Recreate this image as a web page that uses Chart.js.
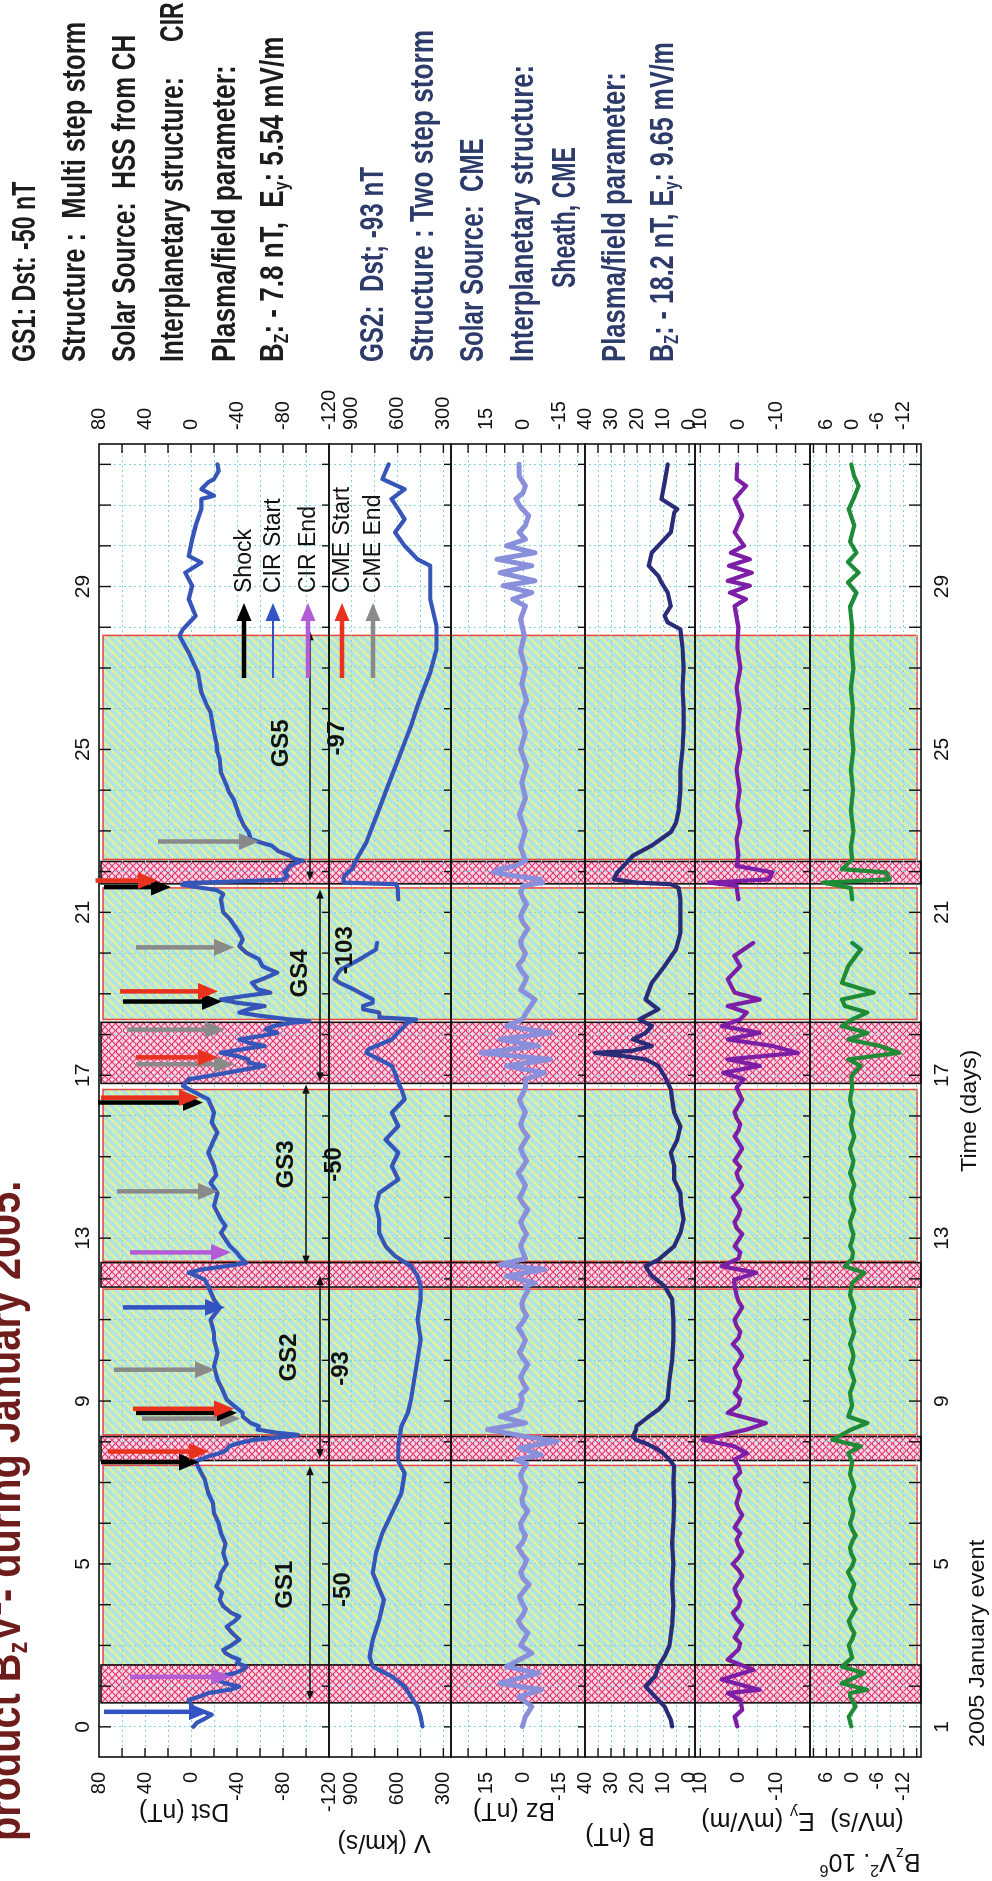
<!DOCTYPE html>
<html>
<head>
<meta charset="utf-8">
<script src="https://cdn.jsdelivr.net/npm/chart.js@4.4.1/dist/chart.umd.min.js"></script>
<style>
html, body { margin: 0; padding: 0; width: 992px; height: 1881px; overflow: hidden; background: #fff; }
#page { position: absolute; left: 0; top: 0; width: 1881px; height: 992px; transform-origin: 0 0; transform: translateY(1881px) rotate(-90deg); }
#c { position: absolute; left: 0; top: 0; }
.txt { position: absolute; white-space: nowrap; transform-origin: 0 0; }
.note { font-family: 'Liberation Sans Narrow', 'Liberation Sans', sans-serif; font-weight: bold; font-size: 34px; line-height: 34px; color: #1c1c1c; }
.gs2 { color: #2c3b69; }
.foot { font-family: 'Liberation Sans', Arial, sans-serif; font-size: 22px; line-height: 22px; color: #111; }
#title { font-family: 'Liberation Sans', Arial, sans-serif; font-weight: bold; font-size: 46px; line-height: 46px; color: #6e1c1c; }
sub, sup { font-size: 60%; line-height: 0; }
sub { vertical-align: -0.25em; }
sup { vertical-align: 0.7em; }
</style>
</head>
<body>
<div id="page">
  <canvas id="c" width="1881" height="992"></canvas>
  <div id="title" class="txt" data-w="660" style="left:40px;top:-19px">product B<sub>z</sub>V<sup>2</sup>- during January 2005.</div>

  <div class="txt note" style="left:1519px;top:6px" data-w="180">GS1: Dst: -50 nT</div>
  <div class="txt note" style="left:1519px;top:56px" data-w="340">Structure :&nbsp; Multi step storm</div>
  <div class="txt note" style="left:1519px;top:106px" data-w="327">Solar Source:&nbsp; HSS from CH</div>
  <div class="txt note" style="left:1519px;top:154px" data-w="285">Interplanetary structure:</div>
  <div class="txt note" style="left:1839px;top:154px" data-w="40">CIR</div>
  <div class="txt note" style="left:1519px;top:206px" data-w="297">Plasma/field parameter:</div>
  <div class="txt note" style="left:1519px;top:254px" data-w="325">B<sub>Z</sub>: - 7.8 nT,&nbsp; E<sub>y</sub>: 5.54 mV/m</div>

  <div class="txt note gs2" style="left:1519px;top:354px" data-w="195">GS2:&nbsp; Dst; -93 nT</div>
  <div class="txt note gs2" style="left:1519px;top:404px" data-w="332">Structure : Two step storm</div>
  <div class="txt note gs2" style="left:1519px;top:454px" data-w="224">Solar Source:&nbsp; CME</div>
  <div class="txt note gs2" style="left:1519px;top:504px" data-w="297">Interplanetary structure:</div>
  <div class="txt note gs2" style="left:1593px;top:546px" data-w="141">Sheath, CME</div>
  <div class="txt note gs2" style="left:1519px;top:596px" data-w="290">Plasma/field parameter:</div>
  <div class="txt note gs2" style="left:1519px;top:644px" data-w="320">B<sub>Z</sub>: - 18.2 nT, E<sub>y</sub>: 9.65 mV/m</div>

  <div class="txt foot" style="left:134px;top:966px" data-w="207">2005 January event</div>
  <div class="txt foot" style="left:709px;top:958px" data-w="122">Time (days)</div>
</div>

<script>
// ---- data: [day of January, value] ----
var dst = [[1.00,-2],[1.10,-5],[1.20,-12],[1.30,-18],[1.38,-10],[1.45,-2],[1.55,0],[1.66,2],[1.75,-8],[1.83,-15],
  [1.92,-35],[1.99,-42],[2.07,-30],[2.16,-22],[2.24,-26],[2.32,-38],[2.40,-45],[2.48,-48],[2.57,-40],[2.65,-42],
  [2.73,-35],[2.81,-30],[2.89,-28],[3.00,-35],[3.14,-42],[3.30,-36],[3.46,-31],[3.60,-38],[3.71,-42],[3.80,-35],
  [3.96,-28],[4.12,-25],[4.30,-27],[4.45,-22],[4.62,-25],[4.78,-26],[5.00,-31],[5.27,-28],[5.50,-30],[5.76,-26],
  [6.00,-24],[6.25,-20],[6.50,-19],[6.74,-15],[7.07,-12],[7.23,-9],
  [7.40,-6],[7.52,-4],[7.56,-8],[7.64,-15],[7.72,-25],[7.80,-31],[7.89,-33],[7.97,-42],[8.05,-55],[8.13,-85],
  [8.17,-93],[8.22,-75],[8.30,-58],[8.38,-59],[8.46,-52],[8.62,-45],[8.71,-45],[8.87,-38],[9.04,-31],[9.30,-27],[9.53,-23],
  [9.85,-20],[10.18,-23],[10.51,-20],[10.67,-20],[11.00,-17],[11.29,-25],[11.49,-20],[11.82,-15],[11.98,-12],[12.07,-5],
  [12.15,2],[12.23,-9],[12.31,-30],[12.39,-48],[12.47,-45],[12.56,-42],[12.64,-40],[12.80,-34],[13.13,-26],[13.30,-30],[13.46,-26],
  [13.79,-20],[14.11,-23],[14.36,-17],[14.55,-22],[14.77,-20],[15.10,-15],[15.42,-20],[15.59,-23],[15.85,-18],[16.08,-20],[16.41,-15],[16.57,-4],
  [16.74,7],[16.90,2],[16.98,-15],[17.06,-31],[17.23,-64],[17.31,-50],[17.39,-50],[17.47,-40],[17.55,-26],[17.64,-45],
  [17.72,-64],[17.80,-50],[17.88,-42],[17.96,-60],[18.04,-75],[18.13,-65],[18.21,-72],[18.29,-88],[18.33,-103],[18.37,-86],
  [18.46,-60],[18.54,-42],[18.62,-50],[18.70,-64],[18.78,-40],[18.86,-26],[18.94,-45],[19.03,-69],[19.11,-58],[19.27,-53],
  [19.36,-62],[19.52,-75],[19.60,-68],[19.68,-62],[19.85,-59],[20.01,-48],[20.17,-42],[20.34,-45],[20.50,-42],[20.66,-38],
  [20.83,-34],[21.00,-28],[21.32,-26],[21.45,-28],[21.55,-22],[21.62,-5],[21.68,8],[21.72,5],[21.76,-40],[21.80,-80],
  [21.90,-84],[21.98,-81],[22.06,-84],[22.14,-86],[22.22,-92],[22.27,-97],[22.31,-90],[22.39,-86],[22.50,-76],[22.64,-70],
  [22.72,-60],[22.80,-52],[22.97,-50],[23.13,-46],[23.37,-42],[23.54,-40],[23.78,-37],[23.95,-33],[24.11,-31],[24.44,-26],
  [24.76,-25],[24.93,-23],[25.17,-22],[25.42,-20],[25.58,-19],[25.91,-17],[26.07,-14],[26.40,-9],[26.89,-6],[27.38,2],
  [27.79,10],[27.95,7],[28.28,-4],[28.69,2],[29.02,-1],[29.34,5],[29.59,-9],[29.75,2],[30.16,-1],[30.49,-4],
  [30.90,-9],[31.15,-9],[31.23,-20],[31.39,-9],[31.56,-15],[31.64,-20],[31.84,-24],[32.00,-23]];

var vel = [[1.01,437],[1.25,449],[1.50,470],[1.74,512],[1.99,554],[2.24,638],[2.48,763],[2.73,784],[3.14,763],[3.63,721],
  [4.12,690],[4.29,710],[4.78,763],[5.27,742],[5.76,700],[6.25,638],[6.74,575],[7.23,554],[7.52,596],[7.89,596],
  [8.38,575],[8.71,533],[9.04,512],[9.53,491],[10.02,470],[10.51,449],[11.00,470],[11.49,449],[11.82,449],[12.07,470],
  [12.31,512],[12.56,617],[12.80,679],[13.13,721],[13.46,721],[13.79,742],[14.11,721],[14.44,596],[14.77,638],[15.10,596],
  [15.42,679],[15.75,596],[16.08,638],[16.41,554],[16.65,575],[16.82,596],[16.98,610],[17.23,638],[17.39,720],[17.55,805],
  [17.64,790],[17.88,638],[18.04,600],[18.21,554],[18.29,540],[18.37,480],[18.42,720],[18.54,721],[18.62,826],[18.70,826],
  [18.78,763],[18.86,763],[19.03,850],[19.11,889],[19.27,980],[19.36,1014],[19.52,990],[19.60,972],[19.85,847],[20.09,742],
  [20.25,735],[20.30,null],[21.32,596],[21.60,600],[21.69,610],[21.73,951],[21.81,955],[21.90,950],[22.06,900],[22.31,868],
  [22.72,805],[23.13,763],[23.54,721],[23.95,679],[24.35,638],[24.76,596],[25.17,554],[25.58,512],[26.07,470],[26.48,429],
  [26.89,386],[27.46,345],[28.03,345],[28.69,386],[29.10,386],[29.51,386],[29.67,470],[30.00,554],[30.33,617],[30.65,554],
  [30.90,596],[31.15,640],[31.39,554],[31.64,700],[32.00,659]];

var bz = [[1.01,0.3],[1.25,-1],[1.50,-3.6],[1.74,1.6],[1.91,-7.4],[2.07,9.4],[2.32,-6.2],[2.48,6.8],[2.81,-3.6],[3.0,1],
  [3.15,-0.5],[3.3,-2],[3.45,0.5],[3.6,2],[3.75,0],[3.9,-1],[4.05,0.5],[4.2,1.5],[4.35,-0.5],[4.5,-2.5],[4.65,0],[4.8,1],
  [4.95,-0.5],[5.1,-1.5],[5.25,0.5],[5.4,2],[5.55,0],[5.7,-1],[5.85,0.5],[6.0,1],[6.15,-0.5],
  [6.3,-2],[6.45,0],[6.6,0.5],[6.75,-0.5],[6.9,-1],[7.05,0.5],[7.2,1],[7.45,-1.5],[7.56,2.9],[7.68,-7.4],[7.85,1.6],[8.01,-13.9],[8.13,-1],
  [8.30,14.6],[8.46,-1],[8.62,9.4],[8.79,1.6],[9.04,0.3],[9.15,1],[9.3,-1.5],[9.45,0],[9.6,1],[9.75,-0.5],[9.9,-2],[10.05,0],[10.2,1.5],[10.35,0],[10.5,-1],
  [10.65,0.5],[10.8,2],[10.95,0],[11.1,-1.5],[11.25,0],[11.4,0.5],[11.55,-0.5],[11.7,-2],[11.82,-1],[11.90,-4.9],[12.07,6.8],[12.23,-8.8],[12.35,9.4],[12.5,-1],
  [12.65,0],[12.8,1],[12.95,0],[13.1,-1.5],[13.25,0],[13.4,1],[13.55,-0.5],[13.7,-2],[13.85,0],[14.0,1.5],[14.15,0],[14.3,-1],[14.45,0.5],[14.6,2],[14.75,0],[14.9,-1.5],[15.05,0],[15.2,1],[15.35,-0.5],[15.5,-2],
  [15.65,0],[15.8,1],[15.95,0],[16.1,-1],[16.25,0.5],[16.4,1.5],[16.55,0],[16.7,-1],[16.90,-1],[17.06,-8.8],[17.23,6.8],[17.39,-11.3],[17.55,17.2],[17.72,-6.2],
  [17.88,9.4],[18.04,-11.3],[18.21,6.8],[18.37,0.3],[18.6,-2],[18.86,-4.9],[19.1,1],[19.25,-0.5],[19.4,-1.5],[19.55,0.5],[19.7,2],[19.85,0],[20.0,-1],
  [20.15,0.5],[20.3,1],[20.45,-0.5],[20.6,-2],[20.75,0],[20.9,1],[21.05,0],[21.2,-1.5],[21.35,0],[21.5,1],[21.65,0],[21.73,-8],[21.81,-7],[21.90,4],[21.98,12],
  [22.06,10],[22.14,3],[22.27,-1],[22.6,1],[23.0,-1],[23.4,1.5],[23.8,-1],[24.2,0.5],[24.6,-1.5],[25.0,1],
  [25.4,-1],[25.8,1],[26.2,-1.5],[26.6,0.5],[27.0,-1],[27.4,1],[27.8,-0.5],[28.2,1],[28.52,-1],[28.69,4.2],
  [28.85,-3.6],[29.02,8.1],[29.14,-4.9],[29.34,9.4],[29.51,-3.6],[29.67,10.7],[29.83,-4.9],[30.0,6.8],[30.16,-1],[30.33,1.6],
  [30.5,-1],[30.74,-2.3],[30.95,1],[31.15,2.9],[31.3,0],[31.47,-1],[31.7,1.5],[32.0,1.6]];

var bt = [[1.01,6.5],[1.17,7],[1.34,8.2],[1.50,9.4],[1.66,11.8],[1.83,14.3],[1.99,16.7],[2.16,14.3],[2.24,13],[2.48,11.8],
  [2.73,9.4],[3.0,7.5],[3.5,6.5],[4.0,6],[4.5,6.5],[5.0,6],[5.5,6.5],[6.0,6],[6.5,5.7],[7.0,6],
  [7.4,5.7],[7.56,7.5],[7.72,10],[7.85,13],[7.97,17],[8.05,20.5],[8.13,21.6],[8.30,20.3],[8.38,20.3],[8.62,15.5],
  [8.79,11.8],[9.04,8.2],[9.53,7.5],[10.0,6.5],[10.5,6],[11.0,6],[11.5,6.5],[11.82,9.4],[12.07,14.3],[12.31,16.7],
  [12.47,11.8],[12.8,5.7],[13.13,3.3],[13.46,2.1],[13.79,3],[14.11,3.3],[14.44,5.7],[14.77,5.7],[15.10,7],[15.42,4.5],
  [15.75,3.3],[16.08,5.7],[16.41,6.5],[16.65,7],[16.82,8.2],[16.98,9.4],[17.23,11.8],[17.39,16.7],[17.47,25],[17.55,36.2],
  [17.60,22],[17.72,14.3],[17.88,21.6],[18.04,16.7],[18.21,14.3],[18.37,19.1],[18.62,11.8],[18.86,16.7],[19.27,14.3],[19.68,9.4],
  [20.09,5],[20.5,3.3],[21.0,3.3],[21.32,3.3],[21.6,4],[21.69,7],[21.73,20],[21.81,28.9],[21.98,27.6],[22.14,25.2],
  [22.39,21.6],[22.64,14.3],[22.97,7],[23.2,5],[23.5,4],[24.0,3.3],[24.5,3.3],[25.0,2.5],[25.5,2.1],[26.0,2.1],
  [26.5,2.5],[27.0,2.1],[27.5,2.5],[27.95,3.3],[28.12,8.2],[28.28,9.4],[28.52,7],[28.85,8.2],[29.10,10.6],[29.26,11.8],
  [29.51,15.5],[29.83,14.3],[30.0,11.8],[30.33,7],[30.82,5.7],[30.90,4.5],[31.15,10.6],[31.56,9.4],[32.0,8.2]];

var ey = [[1.01,0.3],[1.25,1],[1.42,-1],[1.66,-0.5],[1.83,2.8],[1.91,-5.6],[2.16,4.4],[2.40,-3.9],[2.65,2.8],[2.9,0],
  [3.05,-0.5],[3.2,1],[3.35,0],[3.5,-1],[3.65,0.5],[3.8,1.5],[3.95,0],[4.1,-0.5],[4.25,0.5],[4.4,1],[4.55,0],[4.7,-1],[4.85,0],[5.0,1.5],[5.15,0],[5.3,-1],[5.45,0],[5.6,0.5],[5.75,-0.5],[5.9,1],
  [6.05,0],[6.2,-1],[6.35,0],[6.5,0.5],[6.65,0],[6.8,-0.5],[6.95,0.5],[7.1,1],[7.25,-0.5],[7.4,0],[7.56,1.1],[7.72,-2.2],[7.89,1.1],[8.05,9.4],[8.30,-2.2],
  [8.46,-7.2],[8.71,2.8],[8.9,0],[9.05,-0.5],[9.2,1],[9.35,0],[9.5,-0.5],[9.65,0.5],[9.8,1],[9.95,0],[10.1,-1],[10.25,0],[10.4,1.5],[10.55,0],[10.7,-0.5],[10.85,0.5],[11.0,1],
  [11.15,0],[11.3,-1],[11.45,0],[11.6,0.5],[11.82,1],[11.98,1.1],[12.15,-4.7],[12.31,4.4],[12.5,0],[12.65,-0.5],[12.8,1],[12.95,0],[13.1,-1],[13.25,0.5],[13.4,1],
  [13.55,0],[13.7,-0.5],[13.85,0.5],[14.0,1.5],[14.15,0],[14.3,-1],[14.45,0],[14.6,0.5],[14.75,-0.5],[14.9,1],[15.05,0],[15.2,-1],[15.35,0],[15.5,1],[15.65,0],[15.8,-0.5],[15.95,0.5],[16.1,1],[16.25,0],[16.4,-1],
  [16.7,0.5],[16.90,-1.4],[17.06,4],[17.23,-5.6],[17.39,2.8],[17.55,-15.6],[17.72,-8.9],[17.88,2.8],[18.04,-5.6],[18.21,4.4],
  [18.37,-0.5],[18.54,-2.2],[18.70,2.8],[18.86,-5.6],[19.03,1],[19.36,2.8],[19.68,-0.5],[19.93,1.1],[20.25,-3.9],[20.30,null],
  [21.32,0],[21.65,0.5],[21.73,7.7],[21.81,-8],[21.98,-8.9],[22.14,0.5],[22.4,0],[22.8,0.5],[23.2,-0.5],[23.6,0.3],
  [24.0,-0.3],[24.5,0.5],[25.0,-0.5],[25.5,0.3],[26.0,-0.3],[26.5,0.5],[27.0,-0.5],[27.5,0.3],[28.0,0],[28.52,1],
  [28.69,-2],[28.85,2.2],[29.02,-3],[29.14,2.8],[29.34,-3.5],[29.51,2.5],[29.67,-3],[29.83,2],[30.0,-1.5],[30.33,1],
  [30.74,-1],[31.15,1],[31.47,-2],[31.64,0.5],[32.0,0.3]];

var bzv2 = [[1.01,0.2],[1.25,0.8],[1.5,-0.8],[1.74,0.5],[1.83,0.5],[1.91,-3.5],[2.07,2.4],[2.32,-2.8],[2.48,2.4],[2.7,0],
  [3.0,0.8],[3.15,0],[3.3,-0.5],[3.45,0.3],[3.6,0.8],[3.75,0],[3.9,-0.8],[4.05,0],[4.2,0.5],[4.35,0],[4.5,-0.5],[4.65,0.3],[4.8,1],[4.95,0],[5.1,-0.5],[5.25,0.2],[5.4,0.5],[5.55,0],[5.7,-0.8],
  [5.85,0],[6.0,0.5],[6.15,0],[6.3,-0.3],[6.45,0.2],[6.6,0.5],[6.75,0],[6.9,-0.5],[7.05,0],[7.2,0.5],[7.5,0],[7.72,0.9],[7.89,-2],[8.05,4.6],[8.30,0.2],
  [8.46,-3.5],[8.62,0.9],[8.9,0],[9.05,0.3],[9.2,0.5],[9.35,0],[9.5,-0.5],[9.65,0],[9.8,0.5],[9.95,0],[10.1,-0.3],[10.25,0],[10.4,0.5],[10.55,0],[10.7,-0.5],[10.85,0],[11.0,0.3],
  [11.15,0],[11.3,-0.5],[11.45,0],[11.6,0.5],[11.9,0],[12.15,-2.8],[12.31,1.7],[12.5,0],[12.65,-0.2],[12.8,0.5],[12.95,0],[13.1,-0.3],[13.25,0.2],[13.4,0.5],[13.55,0],[13.7,-0.5],
  [13.85,0],[14.0,0.3],[14.15,0],[14.3,-0.5],[14.45,0],[14.6,0.5],[14.75,0],[14.9,-0.3],[15.05,0.2],[15.2,0.5],[15.35,0],[15.5,-0.5],[15.65,0],[15.8,0.3],[15.95,0],[16.1,-0.3],[16.25,0.2],[16.4,0.5],[16.7,0],
  [16.98,0.2],[17.23,-2],[17.39,0.9],[17.55,-10.9],[17.72,-6.4],[17.88,0.9],[18.04,-3.5],[18.21,2.4],[18.37,0],[18.54,-3.5],
  [18.70,1.7],[18.86,2.4],[19.03,-5],[19.27,2.4],[19.68,0.9],[20.09,-2],[20.25,0],[20.30,null],[21.32,0],[21.6,0.3],
  [21.73,6.8],[21.81,-8.7],[21.98,-7.9],[22.06,2.4],[22.3,0],[22.6,0.3],[23.0,-0.3],[23.5,0.3],[24.0,-0.2],[24.5,0.3],
  [25.0,-0.3],[25.5,0.2],[26.0,-0.2],[26.5,0.3],[27.0,-0.3],[27.5,0.2],[28.0,0],[28.5,0.5],[28.85,-1],[29.1,1],
  [29.34,-1.5],[29.6,1],[29.83,-1],[30.1,0.5],[30.5,-0.5],[30.9,0.8],[31.2,-0.5],[31.47,-1.5],[31.7,-0.5],[32.0,0.2]];

// tick labels
var dayLabels = [1, 5, 9, 13, 17, 21, 25, 29];
var dstTicks = [80, 40, 0, -40, -80, -120];
var vTicks = [900, 600, 300];
var bzTicks = [15, 0, -15];
var bTicks = [40, 30, 20, 10, 0];
var eyTicks = [10, 0, -10];
var bzv2Ticks = [6, 0, -6, -12];

// storm intervals (days)
var recovery = [[2.52, 7.42], [8.17, 11.75], [12.43, 16.65], [18.37, 21.6], [22.3, 27.8]];
var mainPhase = [[1.59, 2.52], [7.54, 8.13], [11.8, 12.4], [16.8, 18.3], [21.7, 22.25]];
var gsNames = ['GS1', 'GS2', 'GS3', 'GS4', 'GS5'];
var gsMinDst = [-50, -93, -50, -103, -97];
var gsSpans = [[1.66, 7.4], [7.6, 12.07], [12.35, 16.77], [16.85, 21.56], [21.78, 27.9]];

// event arrows: day, kind, from Dst, to Dst
var kinds = ['Shock', 'CIR Start', 'CIR End', 'CME Start', 'CME End'];
var kindColors = ['#000000', '#3352c4', '#b45cd6', '#e8321e', '#8a8a8a'];
var events = [[1.37,1,75.7,-15.7],[2.23,2,53,-34.8],[7.50,0,78.3,-7],[7.76,3,72.2,-15.7],[8.57,4,42.6,-42.6],
  [8.71,0,47.8,-40],[8.81,3,50.4,-37.4],[9.77,4,67,-20.9],[11.30,1,59.1,-29.6],[12.65,2,53,-34.8],
  [14.15,4,64.3,-23.5],[16.33,0,80.9,-10.4],[16.45,3,78.3,-7],[17.27,4,47.8,-37.4],[17.44,3,47.8,-23.5],
  [18.12,4,55.7,-29.6],[18.81,0,59.1,-27],[19.06,3,61.7,-23.5],[20.14,4,47.8,-37.4],[21.62,0,75.7,17.4],
  [21.78,3,83,28.7],[22.74,4,28.7,-59.1]];

// ---- layout ----
var panels = [
  {id: 'dst',  min: -120,  max: 80,   step: 20,  from: 80,   to: -120,  h: 230, labels: dstTicks},
  {id: 'v',    min: 250,   max: 1050, step: 150, from: 900,  to: 300,   h: 122, labels: vTicks},
  {id: 'bz',   min: -25.4, max: 29.5, step: 7.5, from: 22.5, to: -22.5, h: 134, labels: bzTicks},
  {id: 'b',    min: -2.3,  max: 40,   step: 5,   from: 40,   to: 0,     h: 110, labels: bTicks},
  {id: 'ey',   min: -18.8, max: 11.4, step: 5,   from: 10,   to: -15,   h: 115, labels: eyTicks},
  {id: 'bzv2', min: -16,   max: 9.8,  step: 3,   from: 9,    to: -15,   h: 111, labels: bzv2Ticks}
];
var gsLabelDay = [4.49, 10.07, 14.81, 19.5, 25.15];
var gsValueDay = [4.37, 9.8, 14.81, 20.07, 25.28];
var gsLabelOff = [186, 190, 187, 201, 182];
var gsValueOff = [244, 242, 235, 246, 238];
var gsSpanOff = [211, 221, 207, 221, 211];
var axisTitles = [['Dst (nT)', 70, 184], ['V (km/s)', 39, 384], ['Bz (nT)', 71, 514], ['B (nT)', 46, 620],
  ['E_y (mV/m)', 61, 758], ['(mV/s)', 61, 867], ['B_zV^2. 10^6', 20, 870]];

var dayTicks = [];
for (var d = 1; d <= 32; d++) dayTicks.push(d);

var FONT = "'Liberation Sans', Arial, sans-serif";
var GRID = '#86d2e2';
Chart.defaults.font.family = FONT;
Chart.defaults.color = '#111';

function hatch(bg, fg, size, lw, cross) {
  var c = document.createElement('canvas');
  c.width = c.height = size;
  var g = c.getContext('2d');
  g.fillStyle = bg;
  g.fillRect(0, 0, size, size);
  g.strokeStyle = fg;
  g.lineWidth = lw;
  g.beginPath();
  for (var k = -1; k <= 1; k++) {
    g.moveTo(k * size, size); g.lineTo(k * size + size, 0);
    if (cross) { g.moveTo(k * size, 0); g.lineTo(k * size + size, size); }
  }
  g.stroke();
  return g.createPattern(c, 'repeat');
}

function line(ctx, x0, y0, x1, y1) {
  ctx.beginPath(); ctx.moveTo(x0, y0); ctx.lineTo(x1, y1); ctx.stroke();
}

function arrow(ctx, x0, y0, x1, y1, color, lw, head) {
  var ang = Math.atan2(y1 - y0, x1 - x0);
  var c = Math.cos(ang), s = Math.sin(ang);
  var hx = x1 - head * c, hy = y1 - head * s, hw = head * 0.42;
  ctx.strokeStyle = color; ctx.fillStyle = color; ctx.lineWidth = lw;
  line(ctx, x0, y0, hx + c, hy + s);
  ctx.beginPath();
  ctx.moveTo(x1, y1);
  ctx.lineTo(hx + hw * s, hy - hw * c);
  ctx.lineTo(hx - hw * s, hy + hw * c);
  ctx.closePath();
  ctx.fill();
}

function richParts(str) {
  var out = [], buf = '';
  for (var i = 0; i < str.length; i++) {
    var ch = str[i];
    if ((ch === '_' || ch === '^') && i + 1 < str.length) {
      if (buf) out.push([buf, 0]);
      buf = '';
      out.push([str[i + 1], ch === '_' ? 1 : -1]);
      i++;
    } else buf += ch;
  }
  if (buf) out.push([buf, 0]);
  return out;
}

function drawRich(ctx, str, cx, cy, size) {
  var ps = richParts(str), w = 0;
  var fontOf = function (m) { return (m ? Math.round(size * 0.65) : size) + 'px ' + FONT; };
  ps.forEach(function (p) { ctx.font = fontOf(p[1]); w += ctx.measureText(p[0]).width; });
  var px = cx - w / 2;
  ctx.textAlign = 'left';
  ctx.textBaseline = 'middle';
  ps.forEach(function (p) {
    ctx.font = fontOf(p[1]);
    ctx.fillText(p[0], px, cy + p[1] * size * 0.35);
    px += ctx.measureText(p[0]).width;
  });
}

var cyanFill = hatch('#aee4e2', '#e4ee9d', 9, 2.6, false);
var pinkFill = hatch('#fad7e5', '#e2376f', 7, 1.2, true);

var decorations = {
  id: 'decorations',
  beforeDraw: function (chart) {
    var ctx = chart.ctx, a = chart.chartArea, x = chart.scales.x;
    ctx.save();
    recovery.forEach(function (r) {
      var x0 = x.getPixelForValue(r[0]), x1 = x.getPixelForValue(r[1]);
      ctx.fillStyle = cyanFill;
      ctx.fillRect(x0, a.top + 4, x1 - x0, a.bottom - a.top - 8);
      ctx.strokeStyle = '#e8463c'; ctx.lineWidth = 1.5;
      ctx.strokeRect(x0, a.top + 4, x1 - x0, a.bottom - a.top - 8);
    });
    mainPhase.forEach(function (r) {
      var x0 = x.getPixelForValue(r[0]), x1 = x.getPixelForValue(r[1]);
      ctx.fillStyle = pinkFill;
      ctx.fillRect(x0, a.top + 2, x1 - x0, a.bottom - a.top - 2);
      ctx.strokeStyle = '#111'; ctx.lineWidth = 1.6;
      ctx.strokeRect(x0, a.top + 2, x1 - x0, a.bottom - a.top - 2);
    });
    ctx.restore();
  },
  afterDatasetsDraw: function (chart) {
    var ctx = chart.ctx, a = chart.chartArea, sc = chart.scales, x = sc.x, yd = sc.dst;
    var ys = panels.map(function (p) { return sc[p.id]; });
    ctx.save();

    // panel frames
    ctx.strokeStyle = '#111'; ctx.lineWidth = 1.6;
    ys.forEach(function (s) { ctx.strokeRect(a.left, s.top, a.right - a.left, s.bottom - s.top); });

    // inward ticks
    ctx.lineWidth = 1.4;
    dayTicks.forEach(function (d) {
      var px = x.getPixelForValue(d);
      ys.forEach(function (s, i) {
        line(ctx, px, s.bottom, px, s.bottom - (i === ys.length - 1 ? 12 : 7));
        if (i === 0) line(ctx, px, s.top, px, s.top + 12);
      });
    });
    ys.forEach(function (s) {
      s.ticks.forEach(function (t) {
        var py = s.getPixelForValue(t.value);
        if (py <= s.top + 1 || py >= s.bottom - 1) return;
        line(ctx, a.left, py, a.left + 9, py);
        line(ctx, a.right, py, a.right - 9, py);
      });
    });

    // storm spans and labels
    gsSpans.forEach(function (g, i) {
      var x0 = x.getPixelForValue(g[0]), x1 = x.getPixelForValue(g[1]), py = a.top + gsSpanOff[i];
      arrow(ctx, (x0 + x1) / 2, py, x1, py, '#111', 1.5, 9);
      arrow(ctx, (x0 + x1) / 2, py, x0, py, '#111', 1.5, 9);
      ctx.fillStyle = '#111';
      ctx.font = 'bold 24px ' + FONT;
      ctx.textAlign = 'center'; ctx.textBaseline = 'middle';
      ctx.fillText(gsNames[i], x.getPixelForValue(gsLabelDay[i]), a.top + gsLabelOff[i]);
      ctx.fillText(String(gsMinDst[i]), x.getPixelForValue(gsValueDay[i]), a.top + gsValueOff[i]);
    });

    // event arrows
    events.forEach(function (e) {
      var px = x.getPixelForValue(e[0]);
      arrow(ctx, px, yd.getPixelForValue(e[2]), px, yd.getPixelForValue(e[3]), kindColors[e[1]], 4.5, 20);
    });

    // legend
    var rows = [145, 174, 209, 243, 274];
    kinds.forEach(function (k, i) {
      var py = a.top + rows[i];
      arrow(ctx, a.right - 234, py, a.right - 159, py, kindColors[i], i === 1 ? 2.2 : 4.5, 18);
      ctx.fillStyle = '#111';
      ctx.font = '23px ' + FONT;
      ctx.textAlign = 'left'; ctx.textBaseline = 'middle';
      ctx.fillText(k, a.right - 149, py + 1);
    });

    // axis titles
    ctx.fillStyle = '#111';
    axisTitles.forEach(function (t) {
      ctx.save();
      ctx.translate(t[1], t[2]);
      ctx.rotate(-Math.PI / 2);
      drawRich(ctx, t[0], 0, 0, 25);
      ctx.restore();
    });
    ctx.restore();
  }
};

function yScale(p, i, right) {
  return {
    type: 'linear',
    position: right ? 'right' : 'left',
    stack: right ? 'R' : 'L',
    stackWeight: p.h,
    weight: right ? i + 1 : 6 - i,
    min: p.min,
    max: p.max,
    afterBuildTicks: function (s) {
      var t = [];
      for (var k = 0; p.from - k * p.step >= p.to - 1e-9; k++) t.push({value: +(p.from - k * p.step).toFixed(3)});
      s.ticks = t;
    },
    afterFit: function (s) { s.width = right ? 100 : 124; },
    grid: {display: !right, color: GRID, lineWidth: 1, drawTicks: false},
    border: {display: false, dash: [2, 3]},
    ticks: {
      autoSkip: false, padding: right ? 14 : 15, font: {size: 20}, color: '#111',
      callback: function (v) { return p.labels.indexOf(v) >= 0 ? String(v) : ''; }
    }
  };
}

var scales = {
  x: {
    type: 'linear', position: 'bottom', min: 0.26, max: 32.5,
    afterBuildTicks: function (s) { s.ticks = dayTicks.map(function (v) { return {value: v}; }); },
    afterFit: function (s) { s.height = 71; },
    grid: {color: GRID, lineWidth: 1, drawTicks: false},
    border: {display: false, dash: [2, 3]},
    ticks: {autoSkip: false, maxRotation: 0, padding: 9, font: {size: 21}, color: '#111',
      callback: function (v) { return dayLabels.indexOf(v) >= 0 ? String(v) : ''; }}
  },
  x2: {
    type: 'linear', position: 'top', min: 0.26, max: 32.5,
    afterBuildTicks: function (s) { s.ticks = dayTicks.map(function (v) { return {value: v}; }); },
    afterFit: function (s) { s.height = 99; },
    grid: {display: false, drawTicks: false},
    border: {display: false},
    ticks: {autoSkip: false, maxRotation: 0, padding: 3, font: {size: 21}, color: '#111',
      callback: function (v) { return dayLabels.indexOf(v) >= 0 ? String(v === 1 ? 0 : v) : ''; }}
  }
};
panels.forEach(function (p, i) {
  scales[p.id] = yScale(p, i, false);
  scales[p.id + 'R'] = yScale(p, i, true);
});

var series = [
  {data: dst,  axis: 'dst',  color: '#3655b8', w: 4.2},
  {data: vel,  axis: 'v',    color: '#3655b8', w: 4.2},
  {data: bz,   axis: 'bz',   color: '#8a8fdc', w: 5},
  {data: bt,   axis: 'b',    color: '#2a2c78', w: 4.2},
  {data: ey,   axis: 'ey',   color: '#7d1ea6', w: 4.2},
  {data: bzv2, axis: 'bzv2', color: '#1f8b36', w: 4.2}
];

new Chart(document.getElementById('c'), {
  type: 'line',
  data: {
    datasets: series.map(function (s) {
      return {
        data: s.data.map(function (p) { return {x: p[0], y: p[1]}; }),
        xAxisID: 'x', yAxisID: s.axis,
        borderColor: s.color, borderWidth: s.w,
        pointRadius: 0, tension: 0, fill: false,
        borderJoinStyle: 'round', borderCapStyle: 'round'
      };
    })
  },
  options: {
    responsive: false,
    maintainAspectRatio: false,
    devicePixelRatio: 1,
    animation: false,
    layout: {padding: {left: 0, top: 0, right: 344, bottom: 0}},
    plugins: {legend: {display: false}, tooltip: {enabled: false}},
    scales: scales
  },
  plugins: [decorations]
});

// squeeze text lines to the widths they take in the figure
document.querySelectorAll('[data-w]').forEach(function (el) {
  var w = +el.getAttribute('data-w');
  el.style.transform = 'scaleX(' + (w / el.offsetWidth) + ')';
});
</script>
</body>
</html>
